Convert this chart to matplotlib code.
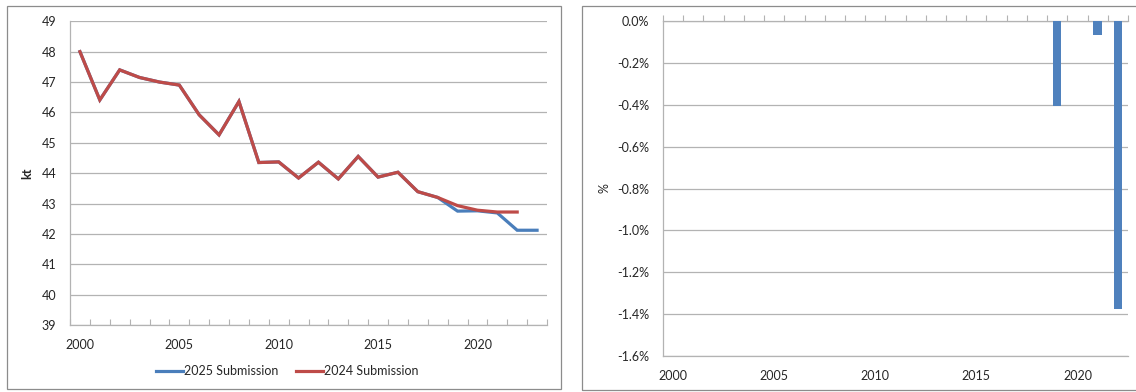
import matplotlib
matplotlib.use("Agg")
import matplotlib.pyplot as plt
from matplotlib.patches import Rectangle
from matplotlib.lines import Line2D
from matplotlib.ticker import FixedLocator, FuncFormatter

# --- data -------------------------------------------------------------
years_2025 = [2000, 2001, 2002, 2003, 2004, 2005, 2006, 2007, 2008, 2009, 2010, 2011,
              2012, 2013, 2014, 2015, 2016, 2017, 2018, 2019, 2020, 2021, 2022, 2023]
kt_2025 = [48.00, 46.41, 47.40, 47.15, 47.00, 46.90, 45.92, 45.26, 46.36, 44.35, 44.37, 43.84,
           44.36, 43.81, 44.55, 43.87, 44.03, 43.39, 43.20, 42.75, 42.76, 42.69, 42.12, 42.12]

years_2024 = [2000, 2001, 2002, 2003, 2004, 2005, 2006, 2007, 2008, 2009, 2010, 2011,
              2012, 2013, 2014, 2015, 2016, 2017, 2018, 2019, 2020, 2021, 2022]
kt_2024 = [48.00, 46.41, 47.40, 47.15, 47.00, 46.90, 45.92, 45.26, 46.36, 44.35, 44.37, 43.84,
           44.36, 43.81, 44.55, 43.87, 44.03, 43.39, 43.20, 42.93, 42.78, 42.72, 42.72]

diff_years = years_2024
diff_pct = [0.0, 0.0, 0.0, 0.0, 0.0, 0.0, 0.0, 0.0, 0.0, 0.0, 0.0, 0.0,
            0.0, 0.0, 0.0, 0.0, 0.0, 0.0, 0.0, -0.405, 0.0, -0.065, -1.376]

year_labels = [2000, 2005, 2010, 2015, 2020]
kt_ticks = [39, 40, 41, 42, 43, 44, 45, 46, 47, 48, 49]
pct_ticks = [0.0, -0.2, -0.4, -0.6, -0.8, -1.0, -1.2, -1.4, -1.6]

series_labels = ["2025 Submission", "2024 Submission"]

# --- style ------------------------------------------------------------
W, H = 1136, 392
BLUE = "#4a7ebb"
RED = "#be4b48"
BAR = "#4f81bd"
GRID = "#b3b3b3"
FRAME = "#8c8c8c"
TEXT = "#262626"
FS = 9

plt.rcParams["font.family"] = ["Lato", "DejaVu Sans"]
plt.rcParams["font.size"] = FS

fig = plt.figure(figsize=(W / 100, H / 100), dpi=100)
fig.patch.set_facecolor("white")


def px_axes(x0, y0, x1, y1):
    """Axes placed by pixel box (top-left origin)."""
    return fig.add_axes([x0 / W, 1 - y1 / H, (x1 - x0) / W, (y1 - y0) / H])


def frame(x0, y0, x1, y1):
    fig.add_artist(Rectangle((x0 / W, 1 - y1 / H), (x1 - x0) / W, (y1 - y0) / H,
                             transform=fig.transFigure, fill=False,
                             edgecolor=FRAME, linewidth=0.9))


frame(7, 6, 561, 389)
frame(582, 6, 1140, 390)

# --- left: emissions in kt -------------------------------------------
ax1 = px_axes(70, 21.3, 547, 325)
ax1.plot(years_2025, kt_2025, color=BLUE, lw=2.3, zorder=3, solid_joinstyle="miter")
ax1.plot(years_2024, kt_2024, color=RED, lw=2.3, zorder=4, solid_joinstyle="miter")
ax1.set_xlim(1999.5, 2023.5)
ax1.set_ylim(39, 49)
ax1.set_yticks(kt_ticks)
ax1.yaxis.grid(True, color=GRID, lw=0.9)
ax1.set_axisbelow(True)
ax1.tick_params(axis="y", length=0, pad=10, colors=TEXT, labelsize=FS)
ax1.xaxis.set_major_locator(FixedLocator(year_labels))
ax1.xaxis.set_minor_locator(FixedLocator([1999.5 + k for k in range(25)]))
ax1.tick_params(axis="x", which="major", length=0, pad=10, colors=TEXT, labelsize=FS)
ax1.tick_params(axis="x", which="minor", direction="in", length=4, width=0.8, color=GRID)
for s in ("top", "right"):
    ax1.spines[s].set_visible(False)
for s in ("left", "bottom"):
    ax1.spines[s].set_color(GRID)
    ax1.spines[s].set_linewidth(0.9)
ax1.set_ylabel("kt", fontweight="bold", color=TEXT, fontsize=FS)
ax1.yaxis.set_label_coords(-0.078, 0.5)

handles = [Line2D([], [], color=BLUE, lw=2.3), Line2D([], [], color=RED, lw=2.3)]
fig.legend(handles, series_labels, loc="center", bbox_to_anchor=(287 / W, 1 - 371 / H),
           ncol=2, frameon=False, handlelength=2.15, handletextpad=0.1,
           columnspacing=1.4, fontsize=FS, labelcolor=TEXT)

# --- right: percentage difference ------------------------------------
ax2 = px_axes(663, 21, 1128, 356)
ax2.bar(diff_years, diff_pct, width=0.42, color=BAR, zorder=3)
ax2.set_xlim(1999.5, 2022.5)
ax2.set_ylim(-1.6, 0.0)
ax2.set_yticks(pct_ticks)
ax2.yaxis.set_major_formatter(FuncFormatter(lambda v, _: f"{v:.1f}%"
                                            if abs(v) > 1e-9 else "0.0%"))
ax2.yaxis.grid(True, color=GRID, lw=0.9)
ax2.set_axisbelow(True)
ax2.tick_params(axis="y", length=0, pad=10, colors=TEXT, labelsize=FS)
ax2.xaxis.set_major_locator(FixedLocator(year_labels))
ax2.xaxis.set_minor_locator(FixedLocator([1999.5 + k for k in range(24)]))
ax2.tick_params(axis="x", which="major", length=0, pad=10, colors=TEXT, labelsize=FS,
                bottom=True, top=False)
ax2.tick_params(axis="x", which="minor", bottom=False, top=True, direction="out",
                length=4, width=0.8, color=GRID)
ax2.spines["right"].set_visible(False)
for s in ("left", "bottom", "top"):
    ax2.spines[s].set_color(GRID)
    ax2.spines[s].set_linewidth(0.9)
ax2.set_ylabel("%", color=TEXT, fontsize=FS)
ax2.yaxis.set_label_coords(-0.112, 0.5)

fig.savefig("out.png", dpi=100, facecolor="white")
